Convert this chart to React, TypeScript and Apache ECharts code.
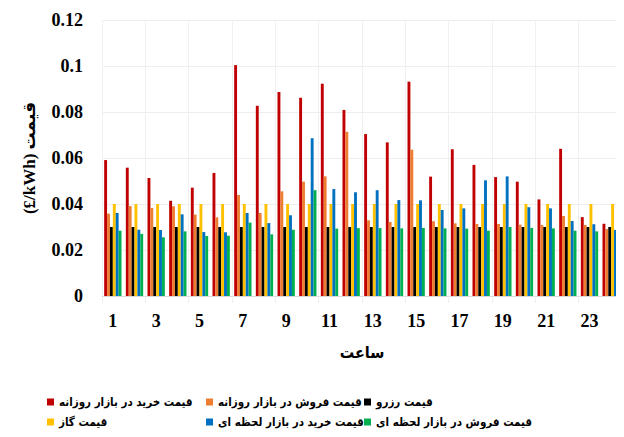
import React, { useEffect, useRef } from "react";
import * as echarts from "echarts";

const hours = ["1","2","3","4","5","6","7","8","9","10","11","12","13","14","15","16","17","18","19","20","21","22","23","24"];

const seriesNames = [
  "قیمت خرید در بازار روزانه",
  "قیمت فروش در بازار روزانه",
  "قیمت رزرو",
  "قیمت گاز",
  "قیمت خرید در بازار لحظه ای",
  "قیمت فروش در بازار لحظه ای",
];

const dayAheadBuy = [0.0591,0.0558,0.0513,0.0414,0.0471,0.0535,0.1004,0.0827,0.0887,0.0862,0.0923,0.0809,0.0704,0.0668,0.0932,0.0519,0.0638,0.057,0.0517,0.0497,0.042,0.064,0.0343,0.0314];
const dayAheadSell = [0.0358,0.0391,0.0383,0.039,0.0354,0.0342,0.0439,0.0361,0.0455,0.0497,0.052,0.0714,0.0329,0.0322,0.0636,0.0325,0.0316,0.0313,0.0313,0.031,0.0309,0.0348,0.0309,0.0291];
const reservePrice = [0.03,0.03,0.03,0.03,0.03,0.03,0.03,0.03,0.03,0.03,0.03,0.03,0.03,0.03,0.03,0.03,0.03,0.03,0.03,0.03,0.03,0.03,0.03,0.03];
const gasPrice = [0.04,0.04,0.04,0.04,0.04,0.04,0.04,0.04,0.04,0.04,0.04,0.04,0.04,0.04,0.04,0.04,0.04,0.04,0.04,0.04,0.04,0.04,0.04,0.04];
const realTimeBuy = [0.0361,0.0288,0.0287,0.0355,0.0278,0.0277,0.0361,0.0317,0.0351,0.0686,0.0465,0.0451,0.046,0.0417,0.0416,0.0374,0.0381,0.0503,0.052,0.0386,0.0381,0.0326,0.0312,0.0287];
const realTimeSell = [0.0284,0.027,0.0255,0.0281,0.0261,0.0262,0.0319,0.0268,0.0288,0.046,0.0293,0.0295,0.0295,0.0294,0.0296,0.0294,0.0293,0.0284,0.03,0.0296,0.0294,0.0284,0.0281,0.0273];

const seriesData = [dayAheadBuy, dayAheadSell, reservePrice, gasPrice, realTimeBuy, realTimeSell];
const colors = ["#C00000", "#ED7D31", "#000000", "#FFC000", "#0070C0", "#00B050"];

const legendPos = [
  { left: 47, top: 396 },
  { left: 206, top: 396 },
  { left: 364, top: 396 },
  { left: 47, top: 416 },
  { left: 206, top: 416 },
  { left: 364, top: 416 },
];

const serif = "'Liberation Serif', 'DejaVu Serif', 'DejaVu Sans', serif";
const arabic = "'DejaVu Sans Condensed', 'DejaVu Sans', sans-serif";

export default function App() {
  const ref = useRef<HTMLDivElement>(null);
  useEffect(() => {
    if (!ref.current) return;
    const chart = echarts.init(ref.current, undefined, { renderer: "svg" });
    chart.setOption({
      animation: false,
      backgroundColor: "#ffffff",
      textStyle: { fontFamily: serif },
      graphic: [
        { type: "line", shape: { x1: 7, y1: 7, x2: 624, y2: 7 }, style: { stroke: "#d9d9d9", lineWidth: 1 } },
        { type: "line", shape: { x1: 7, y1: 433, x2: 624, y2: 433 }, style: { stroke: "#d9d9d9", lineWidth: 1 } },
      ],
      grid: { left: 102, right: 2, top: 20, bottom: 141 },
      legend: seriesNames.map((n, i) => ({
        data: [n],
        left: legendPos[i].left,
        top: legendPos[i].top,
        itemWidth: 7,
        itemHeight: 7,
        itemGap: 5,
        padding: 0,
        icon: "rect",
        textStyle: { fontFamily: arabic, fontWeight: "bold", fontSize: 11.5, color: "#000" },
      })),
      xAxis: {
        type: "category",
        data: hours,
        name: "ساعت",
        nameLocation: "middle",
        nameGap: 48,
        nameTextStyle: { fontFamily: arabic, fontWeight: "bold", fontSize: 16, color: "#000" },
        axisLine: { lineStyle: { color: "#d9d9d9" } },
        axisTick: { show: true, length: 7, lineStyle: { color: "#eeeeee" } },
        splitLine: { show: true, lineStyle: { color: "#f0f0f0" } },
        axisLabel: { interval: 1, margin: 16, fontFamily: serif, fontWeight: "bold", fontSize: 18, color: "#000" },
      },
      yAxis: {
        type: "value",
        min: 0,
        max: 0.12,
        interval: 0.02,
        name: "(£/kWh) قیمت",
        nameLocation: "middle",
        nameGap: 64,
        nameRotate: 90,
        nameTextStyle: { fontFamily: serif, fontWeight: "bold", fontSize: 17, color: "#000" },
        axisLine: { show: false },
        axisTick: { show: false },
        splitLine: { show: true, lineStyle: { color: "#eeeeee" } },
        axisLabel: { margin: 19, fontFamily: serif, fontWeight: "bold", fontSize: 18, color: "#000" },
      },
      series: seriesNames.map((n, i) => ({
        name: n,
        type: "bar",
        data: seriesData[i],
        barGap: "0%",
        barCategoryGap: "20%",
        itemStyle: { color: colors[i] },
      })),
    });
    return () => chart.dispose();
  }, []);
  return <div ref={ref} style={{ width: 624, height: 437, margin: -8 }} />;
}
